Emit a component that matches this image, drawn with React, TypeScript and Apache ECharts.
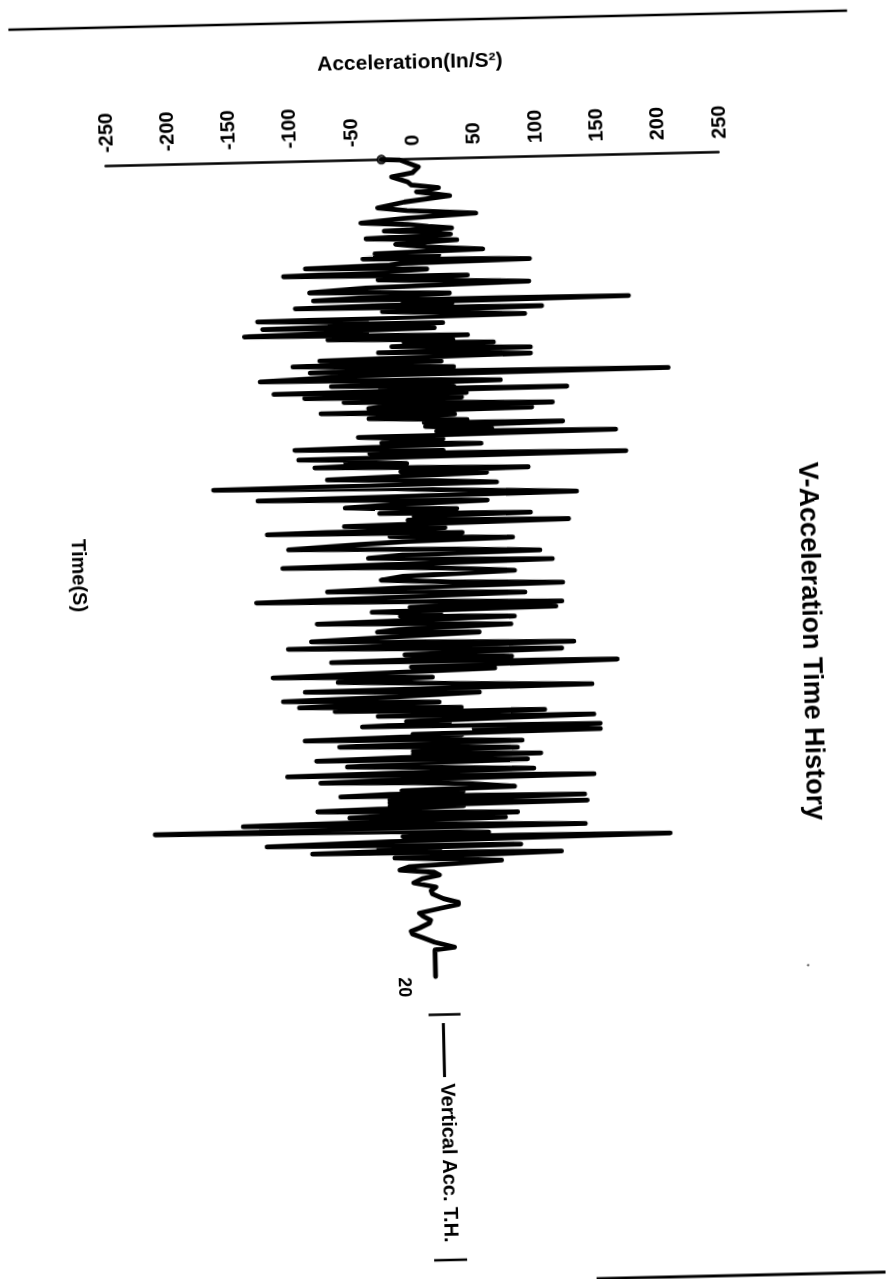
import React, { useEffect, useRef } from "react";
import * as echarts from "echarts";

// [time (s), acceleration (in/s²)]
const traceOnset: number[][] = [
  [0,-25],[0.02,-10],[0.2,5],[0.34,0],[0.43,-17],[0.56,-4],[0.64,-1],[0.72,21],[0.81,3],[0.92,30],[1.05,-7],[1.18,-29],[1.26,-5],[1.36,51],[1.45,-8],[1.54,-43],[1.6,-5],[1.66,12],[1.71,31],[1.75,-24],[1.8,10],[1.86,30],[1.93,-39],[2.0,35],[2.08,-15],[2.16,10],[2.24,56],[2.3,-32],[2.36,20],[2.42,-42],[2.5,94],[2.55,-10],[2.58,-20],[2.63,-89],[2.67,-20],[2.7,10],[2.76,-30],[2.81,-107],[2.87,43],[2.94,-30],[3.05,93],
];
const traceStrongA: number[][] = [
  [3.13,-40],[3.22,-86],[3.26,-20],[3.3,28],[3.36,-30],[3.42,-83],[3.46,174],[3.5,-10],[3.54,30],[3.6,-98],[3.66,103],[3.72,-27],[3.78,25],[3.84,89],[3.9,-129],[3.96,-40],[4.0,-70],[4.02,22],[4.06,-60],[4.09,-125],[4.14,15],[4.17,-60],[4.2,-40],[4.23,-90],[4.26,-140],[4.3,-30],[4.33,42],[4.38,-72],[4.41,-20],[4.44,30],[4.48,-10],[4.52,63],[4.58,-20],[4.62,30],[4.66,93],[4.72,-31],[4.77,40],[4.81,93],[4.89,-79],[4.96,20],[5.02,-101],[5.06,-40],[5.1,30],[5.14,-30],[5.18,-87],[5.24,205],[5.27,-20],[5.3,-70],[5.37,-128],[5.41,20],[5.45,68],[5.49,-30],[5.52,-70],[5.55,10],[5.58,30],[5.61,-30],[5.64,122],[5.68,-117],[5.71,-10],[5.74,40],[5.77,-40],[5.8,-92],[5.85,36],[5.88,-40],[5.92,-60],[5.97,25],[6.02,110],[6.05,-30],[6.08,-40],[6.13,93],[6.18,-79],[6.22,-10],[6.26,30],[6.33,-40],[6.4,40],[6.45,5],[6.49,118],[6.55,6],[6.62,60],[6.67,15],[6.72,161],[6.78,-49],[6.86,20],[6.93,-30],[6.99,51],[7.06,-101],[7.1,-30],[7.14,20],[7.18,-40],[7.25,169],[7.3,-98],[7.34,-40],[7.38,-60],[7.44,-10],[7.5,-85],[7.59,89],[7.64,-15],[7.7,55],[7.8,-75],[7.88,15],[7.94,63],[7.99,-168],
];
const traceStrongB: number[][] = [
  [8.05,-20],[8.1,15],[8.21,128],[8.28,-132],[8.33,-10],[8.38,55],[8.44,-20],[8.5,-61],[8.57,30],[8.65,-33],[8.7,90],[8.74,-5],[8.78,20],[8.83,-10],[8.88,121],[8.95,-62],[9.03,20],[9.07,-40],[9.11,-125],[9.16,34],[9.22,-25],[9.3,75],[9.35,-10],[9.4,-50],[9.49,-108],[9.56,30],[9.63,97],[9.68,-15],[9.74,-43],[9.8,20],[9.85,107],[9.94,-113],[9.98,-15],[10.02,20],[10.11,76],[10.2,-15],[10.28,-33],[10.36,25],[10.43,115],[10.48,-15],[10.54,-77],[10.6,15],[10.65,84],[10.71,-30],[10.77,-135],[10.83,15],[10.89,114],[10.96,-10],[11.01,109],[11.06,-41],[11.12,15],[11.17,-18],[11.23,75],[11.32,-86],[11.37,5],[11.42,72],[11.5,-20],[11.55,-37],[11.6,46],[11.67,-20],[11.75,-91],[11.82,10],[11.88,123],[11.92,-110],
];
const traceStrongC: number[][] = [
  [11.98,5],[12.04,113],[12.12,-15],[12.21,72],[12.27,-75],[12.34,158],[12.42,-10],[12.49,58],[12.55,-30],[12.61,-123],[12.68,7],[12.76,-70],[12.85,30],[12.93,137],[12.98,-97],[13.03,-10],[13.07,45],[13.14,-20],[13.2,-115],[13.29,12],[13.36,-102],[13.43,30],[13.47,-73],[13.53,98],[13.61,-38],[13.67,138],[13.75,-15],[13.8,20],[13.86,-51],[13.9,143],[13.96,40],[14.03,143],[14.07,-10],[14.1,30],[14.14,-40],[14.17,-98],[14.22,20],[14.27,79],[14.3,-20],[14.34,-70],[14.39,20],[14.44,75],[14.48,-10],[14.52,30],[14.55,-10],[14.59,94],[14.63,-20],[14.67,-89],[14.7,10],[14.73,83],[14.78,-20],[14.83,-64],[14.9,20],[14.96,88],[15.0,-20],[15.04,-113],[15.08,20],[15.13,137],[15.17,-10],[15.21,-86],[15.25,-10],[15.3,35],[15.39,72],[15.44,-20],[15.48,30],[15.52,-30],[15.56,-70],[15.59,40],[15.62,129],[15.66,-30],[15.7,30],[15.73,-30],[15.77,131],[15.81,-30],[15.84,30],[15.87,-30],[15.91,-89],[15.96,-20],[16.02,74],[16.05,-20],[16.08,-63],[16.11,30],[16.14,64],[16.19,-30],[16.23,-150],[16.29,40],[16.34,129],[16.38,-222],[16.44,-30],[16.5,50],[16.56,-20],[16.62,198],[16.68,-30],[16.74,-131],[16.78,-10],[16.81,76],[16.85,-40],[16.88,10],[16.91,-30],[16.94,-94],[16.97,30],[17.0,109],
];
const traceDecay: number[][] = [
  [17.08,-27],[17.19,60],[17.3,-15],[17.38,-23],[17.45,5],[17.52,9],[17.6,-5],[17.7,-12],[17.81,6],[17.9,2],[17.98,3],[18.1,12],[18.2,24],[18.25,24],[18.33,10],[18.44,-8],[18.52,-5],[18.62,1],[18.69,0],[18.8,-8],[18.88,-15],[18.95,-14],[19.04,-6],[19.16,4],[19.29,20],[19.35,4],[19.5,4],[20,4],
];
const startMarker = [[-25, 0]];
const chartTitle = "V-Acceleration Time History";
const xTitle = "Acceleration(In/S\u00B2)";
const yTitle = "Time(S)";
const legendLabel = "Vertical Acc. T.H.";
const FONT = '"Liberation Sans", Arial, sans-serif';

export default function App() {
  const ref = useRef<HTMLDivElement>(null);
  useEffect(() => {
    document.body.style.margin = "0";
    document.body.style.overflow = "hidden";
    document.body.style.background = "#fff";
    const chart = echarts.init(ref.current!, undefined, { renderer: "svg" });
    const trace = [...traceOnset, ...traceStrongA, ...traceStrongB, ...traceStrongC, ...traceDecay];
    const bar = (x1: number, y1: number, x2: number, y2: number, lineWidth: number) => ({
      type: "line",
      shape: { x1, y1, x2, y2 },
      style: { stroke: "#000", lineWidth },
    });
    const vtext = (text: string, x: number, y: number, fontSize: number) => ({
      type: "text",
      x,
      y,
      rotation: -Math.PI / 2,
      style: {
        text,
        fill: "#000",
        font: `bold ${fontSize}px ${FONT}`,
        textAlign: "center",
        textVerticalAlign: "middle",
      },
    });
    chart.setOption({
      animation: false,
      backgroundColor: "#fff",
      grid: { left: 116.5, top: 158.3, width: 613, height: 818, outerBoundsMode: "none" },
      xAxis: {
        type: "value",
        position: "top",
        min: -250,
        max: 250,
        interval: 50,
        name: xTitle,
        nameLocation: "middle",
        nameGap: 87,
        nameTextStyle: { color: "#000", fontFamily: FONT, fontWeight: "bold", fontSize: 21 },
        axisLine: { onZero: false, lineStyle: { color: "#000", width: 2.5 } },
        axisTick: { show: false },
        splitLine: { show: false },
        axisLabel: { rotate: -90, margin: 13, color: "#000", fontFamily: FONT, fontWeight: "bold", fontSize: 20 },
      },
      yAxis: {
        type: "value",
        inverse: true,
        min: 0,
        max: 20,
        interval: 20,
        offset: -306.5,
        name: yTitle,
        nameLocation: "middle",
        nameGap: 332,
        nameRotate: -90,
        nameTextStyle: { color: "#000", fontFamily: FONT, fontWeight: "bold", fontSize: 20 },
        axisLine: { show: false, onZero: false },
        axisTick: { show: false },
        splitLine: { show: false },
        axisLabel: {
          rotate: -90,
          margin: 26,
          color: "#000",
          fontFamily: FONT,
          fontWeight: "bold",
          fontSize: 18,
          showMinLabel: false,
          align: "left",
          verticalAlign: "middle",
          formatter: (v: number) => (v === 20 ? "20" : ""),
        },
      },
      series: [
        {
          type: "line",
          name: "Vertical Acc. T.H.",
          data: trace.map(([t, a]) => [a, t]),
          showSymbol: false,
          symbol: "none",
          clip: false,
          lineStyle: { color: "#000", width: 4.8, cap: "round", join: "round" },
        },
        {
          type: "scatter",
          data: startMarker,
          symbol: "circle",
          symbolSize: 8,
          clip: false,
          itemStyle: { color: "#555", borderColor: "#000", borderWidth: 2 },
        },
      ],
      graphic: [
        vtext(chartTitle, 812, 649.4, 27),
        vtext(legendLabel, 438, 1163, 20),
        bar(420, 1014.5, 452, 1014.5, 2.5),
        bar(434.6, 1023, 434.6, 1077, 3),
        bar(420, 1260, 453, 1260, 2.5),
        bar(22.4, 20, 861.3, 20, 2.5),
        bar(582, 1282, 871, 1282, 3),
        { type: "circle", shape: { cx: 800.6, cy: 973.3, r: 1 }, style: { fill: "#333" } },
      ],
    });
    return () => chart.dispose();
  }, []);
  return (
    <div
      ref={ref}
      style={{
        position: "fixed",
        left: 0,
        top: 0,
        width: 886,
        height: 1320,
        transformOrigin: "443px 639.5px",
        transform: "rotate(-1.306deg)",
      }}
    />
  );
}
